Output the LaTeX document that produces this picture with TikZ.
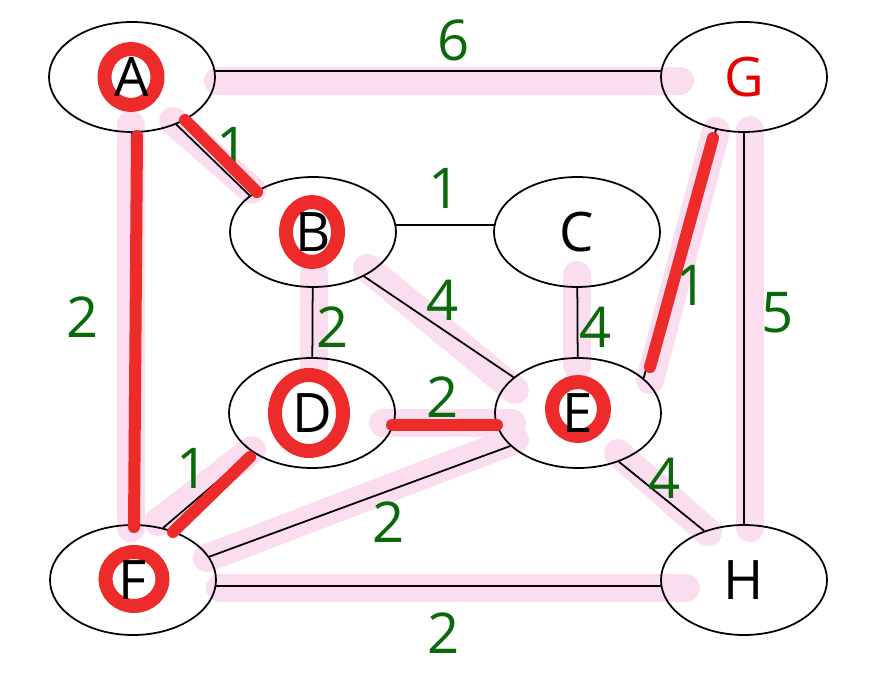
\documentclass[tikz,border=0pt]{standalone}
\usepackage{fontspec}
\setmainfont{Open Sans}
\usepackage{tikz}
\usetikzlibrary{shapes.geometric}
\definecolor{hlpink}{RGB}{251,221,240}
\definecolor{penred}{RGB}{238,43,43}
\definecolor{wgreen}{RGB}{10,105,10}

\begin{document}
\begin{tikzpicture}[
		vertex/.style={draw,ellipse,line width=1pt,minimum width=3.32cm,minimum height=2.2cm,inner sep=0pt,font=\fontsize{31}{33}\selectfont},
		weight/.style={text=wgreen,inner sep=0pt,font=\fontsize{32}{34}\selectfont},
		marker/.style={hlpink,line width=0.56cm,line cap=round},
		pen/.style={penred,line width=0.24cm,line cap=round},
		ring/.style={penred,line width=0.28cm}]
					\useasboundingbox (0,0) rectangle (17.62,13.68);
					% Highlighter strokes
					\draw[marker] (4.36,12.06) -- (13.60,12.06);
					\draw[marker] (2.62,11.18) -- (2.62,3.12);
					\draw[marker] (3.46,11.26) -- (5.04,9.88);
					\draw[marker] (6.28,8.18) -- (6.28,6.36);
					\draw[marker] (7.34,8.32) -- (10.30,5.88);
					\draw[marker] (11.54,8.18) -- (11.54,6.36);
					\draw[marker] (7.66,5.22) -- (10.24,5.22);
					\draw[marker] (5.04,4.68) -- (3.16,3.24);
					\draw[marker] (10.30,4.88) -- (4.14,2.52);
					\draw[marker] (12.36,4.62) -- (14.16,3.04);
					\draw[marker] (4.40,1.92) -- (13.72,1.92);
					\draw[marker] (14.32,11.06) -- (13.00,6.08);
					\draw[marker] (15.00,11.08) -- (15.00,3.12);
					% Pen rings (under the letters)
					\draw[ring] (2.62,12.14) ellipse (0.53 and 0.56);
					\draw[ring] (6.24,9.04) ellipse (0.52 and 0.60);
					\draw[ring] (6.18,5.42) ellipse (0.68 and 0.76);
					\draw[ring] (11.56,5.50) ellipse (0.52 and 0.54);
					\draw[ring] (2.68,2.10) ellipse (0.57 and 0.54);
					% Vertices
					\node[vertex] (A) at (2.64,12.14) {A};
					\node[vertex,text=red!90!black] (G) at (14.88,12.14) {G};
					\node[vertex] (B) at (6.26,9.04) {B};
					\node[vertex] (C) at (11.54,9.04) {C};
					\node[vertex] (D) at (6.24,5.42) {D};
					\node[vertex] (E) at (11.56,5.42) {E};
					\node[vertex] (F) at (2.66,2.08) {F};
					\node[vertex] (H) at (14.88,2.08) {H};
					% Edges
					\draw[line width=1pt] (A.4) -- (G.176);
					\draw[line width=1pt] (A.-47) -- (B.150);
					\draw[line width=1pt] (A) -- (F);
					\draw[line width=1pt] (B.5) -- (C.175);
					\draw[line width=1pt] (B) -- (D);
					\draw[line width=1pt] (B.319) -- (E.151);
					\draw[line width=1pt] (C) -- (E);
					\draw[line width=1pt] (D.-8) -- (E.188);
					\draw[line width=1pt] (D.213) -- (F.60);
					\draw[line width=1pt] (F.17) -- (E.206);
					\draw[line width=1pt] (E.310) -- (H.129);
					\draw[line width=1pt] (F.-4) -- (H.184);
					\draw[line width=1pt] (G.242) -- (E.28);
					\draw[line width=1pt] (G) -- (H);
					% Weights
					\foreach \pos/\w/\n in {{9.08,12.88}/6/ag,{4.66,10.74}/1/ab,{8.90,9.92}/1/bc,{1.66,7.34}/2/af,
						{8.86,7.68}/4/be,{6.66,7.14}/2/bd,{11.92,7.14}/4/ce,{13.84,7.98}/1/ge,{15.56,7.42}/5/gh,
						{8.86,5.74}/2/de,{3.86,4.32}/1/df,{7.78,3.24}/2/ef,{13.30,4.12}/4/eh,{8.88,1.02}/2/fh}
						\node[weight] (w\n) at (\pos) {\w};
					% Pen marks
					\draw[pen] (2.74,10.96) -- (2.68,3.14);
					\draw[pen] (3.70,11.28) -- (5.14,9.84);
					\draw[pen] (5.00,4.54) -- (3.46,3.04);
					\draw[pen] (7.84,5.18) -- (9.94,5.18);
					\draw[pen] (14.26,10.92) -- (13.00,6.34);
				\end{tikzpicture}
\end{document}
